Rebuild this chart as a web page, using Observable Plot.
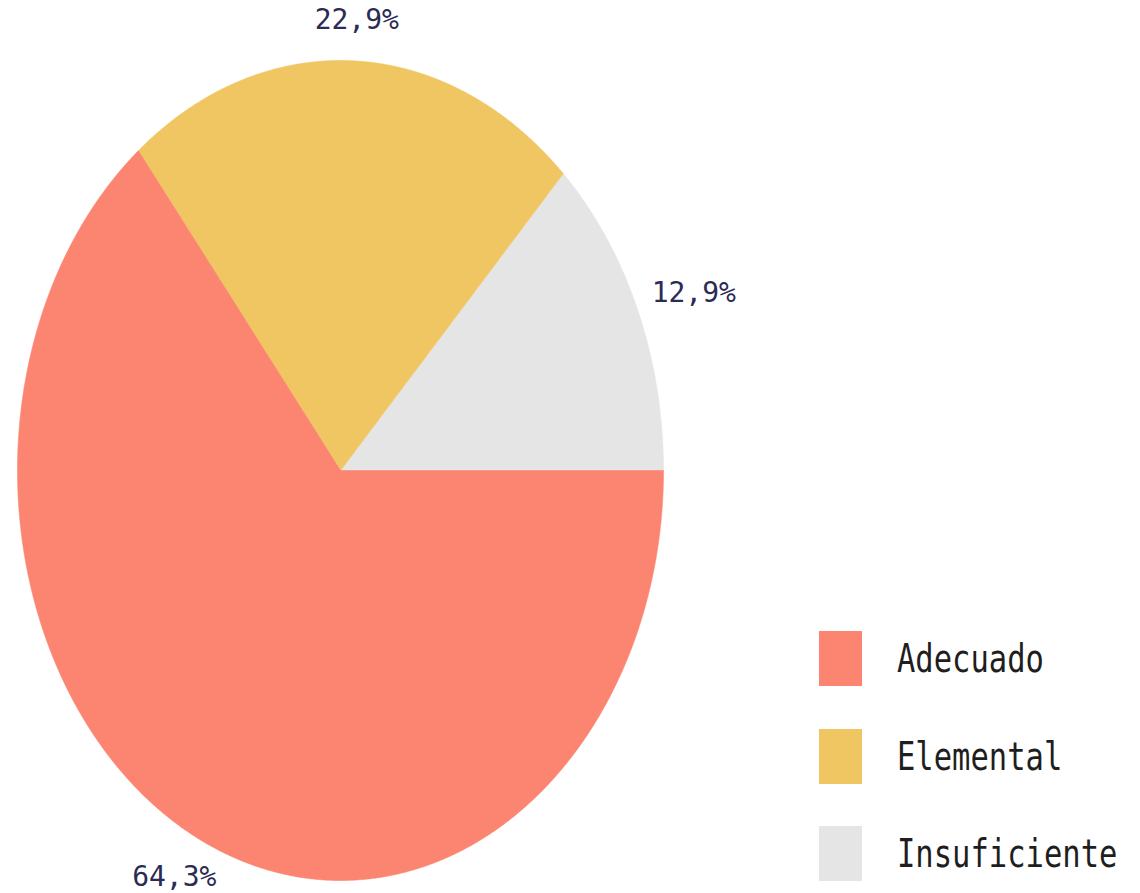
<!DOCTYPE html>
<html>
<head>
<meta charset="utf-8">
<script src="https://cdn.jsdelivr.net/npm/d3@7"></script>
<script src="https://cdn.jsdelivr.net/npm/@observablehq/plot@0.6"></script>
<style>
  html, body { margin: 0; padding: 0; background: #fff; }
  #wrap { position: relative; width: 1140px; height: 893px; overflow: hidden; }
  #legend { position: absolute; left: 819px; top: 631px; }
  .row { position: absolute; left: 0; display: flex; align-items: center; height: 55px; }
  .sw { width: 43px; height: 55px; }
  .lbl { margin-left: 35px; font-family: "DejaVu Sans Mono", monospace; font-size: 30.5px; color: #1e1e1e;
         transform: scaleY(1.3); transform-origin: left center; white-space: nowrap; }
</style>
</head>
<body>
<div id="wrap"></div>
<script>
const categories = ["Adecuado", "Elemental", "Insuficiente"];
const percents = [64.3, 22.9, 12.9];
const pctLabels = ["64,3%", "22,9%", "12,9%"];
const colors = ["#fb8571", "#f0c662", "#e5e5e5"];

// build slices counter-clockwise from 3 o'clock: Insuficiente, Elemental, Adecuado
const total = d3.sum(percents);
const order = [2, 1, 0];
const pts = [];
const labelData = [];
let a = 0;
for (const i of order) {
  const a0 = a, a1 = a + percents[i] / total * 2 * Math.PI;
  pts.push({cat: categories[i], x: 0, y: 0});
  const n = Math.ceil((a1 - a0) / 0.005);
  for (let k = 0; k <= n; k++) {
    const t = a0 + (a1 - a0) * k / n;
    pts.push({cat: categories[i], x: Math.cos(t), y: Math.sin(t)});
  }
  pts.push({cat: categories[i], x: 0, y: 0});
  const m = (a0 + a1) / 2;
  labelData.push({text: pctLabels[i], x: Math.cos(m) * 1.19, y: Math.sin(m) * 1.1});
  a = a1;
}

const chart = Plot.plot({
  width: 1140,
  height: 893,
  margin: 0,
  x: {domain: [-1, 1], range: [17, 663], axis: null},
  y: {domain: [-1, 1], range: [880, 60], axis: null},
  color: {domain: categories, range: colors},
  marks: [
    Plot.line(pts, {x: "x", y: "y", z: "cat", fill: "cat", stroke: "cat", strokeWidth: 0.6, curve: "linear"}),
    Plot.text(labelData, {x: "x", y: "y", text: "text", fontFamily: "DejaVu Sans Mono", fontSize: 28,
      fill: "#2b2b55"})
  ]
});
document.getElementById("wrap").appendChild(chart);

const legend = document.createElement("div");
legend.id = "legend";
categories.forEach((c, i) => {
  const row = document.createElement("div");
  row.className = "row";
  row.style.top = (i * 97.5) + "px";
  const sw = document.createElement("div");
  sw.className = "sw";
  sw.style.background = colors[i];
  const lb = document.createElement("div");
  lb.className = "lbl";
  lb.textContent = c;
  row.appendChild(sw);
  row.appendChild(lb);
  legend.appendChild(row);
});
document.getElementById("wrap").appendChild(legend);
</script>
</body>
</html>
